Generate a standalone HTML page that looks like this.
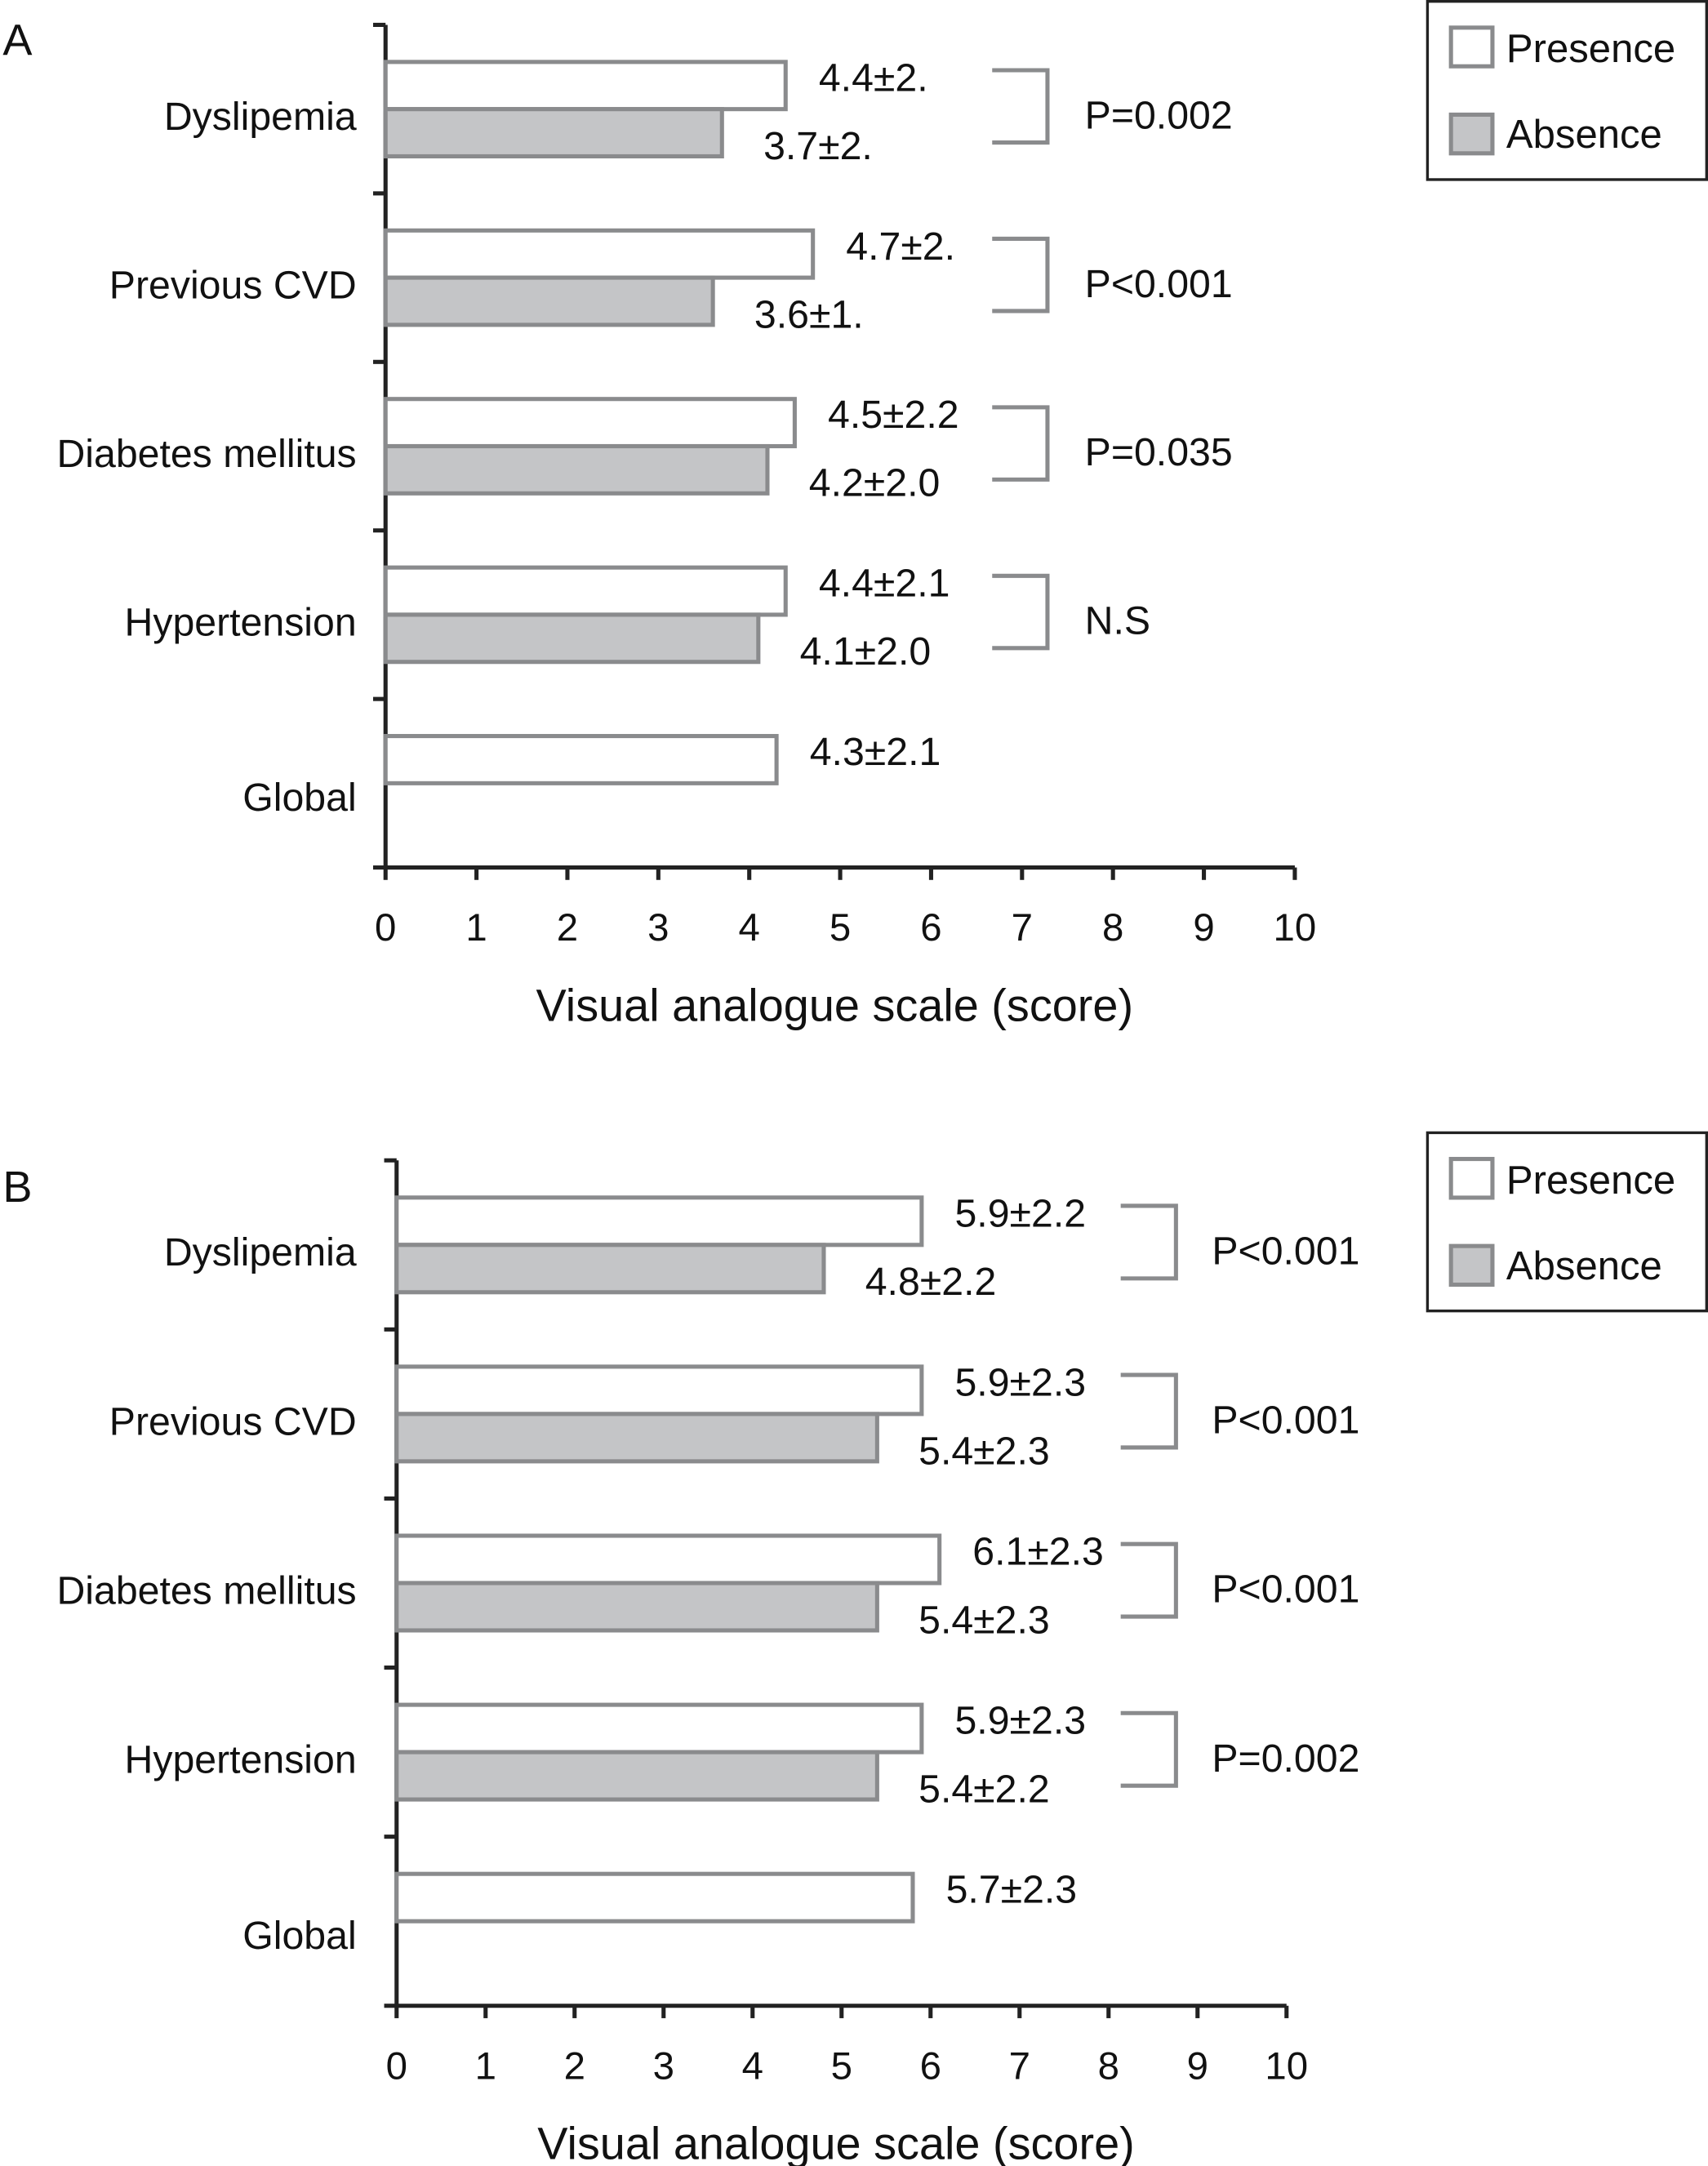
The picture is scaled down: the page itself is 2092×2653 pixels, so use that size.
<!DOCTYPE html>
<html><head><meta charset="utf-8"><style>
html,body{margin:0;padding:0;background:#fff}
svg{display:block}
text{font-family:"Liberation Sans",sans-serif;fill:#111}
</style></head><body>
<svg id="chart" width="2092" height="2653" viewBox="0 0 1236 1568" preserveAspectRatio="none" xmlns="http://www.w3.org/2000/svg"></svg>
<script>
const categories = ["Dyslipemia","Previous CVD","Diabetes mellitus","Hypertension","Global"];
const presenceA = [4.4,4.7,4.5,4.4,4.3];
const absenceA = [3.7,3.6,4.2,4.1,null];
const presenceLabelsA = ["4.4±2.","4.7±2.","4.5±2.2","4.4±2.1","4.3±2.1"];
const absenceLabelsA = ["3.7±2.","3.6±1.","4.2±2.0","4.1±2.0",null];
const pValuesA = ["P=0.002","P<0.001","P=0.035","N.S"];
const presenceB = [5.9,5.9,6.1,5.9,5.8];
const absenceB = [4.8,5.4,5.4,5.4,null];
const presenceLabelsB = ["5.9±2.2","5.9±2.3","6.1±2.3","5.9±2.3","5.7±2.3"];
const absenceLabelsB = ["4.8±2.2","5.4±2.3","5.4±2.3","5.4±2.2",null];
const pValuesB = ["P<0.001","P<0.001","P<0.001","P=0.002"];
const xTicks = [0,1,2,3,4,5,6,7,8,9,10];

const svg = document.getElementById('chart');
const NS = "http://www.w3.org/2000/svg";
function mk(tag, attrs, txt){
  const e = document.createElementNS(NS, tag);
  for (const k in attrs) e.setAttribute(k, attrs[k]);
  if (txt != null) e.textContent = txt;
  svg.appendChild(e);
  return e;
}
const GRAY = "#8a8b8d";

function panel(cfg){
  const {x0, x1, yTop, yBot, pres, abs, presL, absL, pv, letter, letterY, bx, px, legendY, prefix} = cfg;
  const xs = v => x0 + v * (x1 - x0) / 10;
  const band = (yBot - yTop) / categories.length;
  let e;
  e = mk('text', {x: 2, y: letterY, 'font-size': 32}, letter);
  
  
  e = mk('line', {x1: x0, y1: yTop, x2: x0, y2: yBot, stroke: '#222', 'stroke-width': 3});
  
  
  e = mk('line', {x1: x0, y1: yBot, x2: x1, y2: yBot, stroke: '#222', 'stroke-width': 3});
  
  
  for (let i = 0; i <= categories.length; i++) {
    const y = yTop + i * band;
    e = mk('line', {x1: x0 - 9, y1: y, x2: x0, y2: y, stroke: '#222', 'stroke-width': 3});
    
    
  }
  xTicks.forEach(t => {
    const x = xs(t);
    e = mk('line', {x1: x, y1: yBot, x2: x, y2: yBot + 9, stroke: '#222', 'stroke-width': 3});
    
    
    e = mk('text', {x: x, y: yBot + 53, 'font-size': 28, 'text-anchor': 'middle'}, String(t));
    
    
  });
  e = mk('text', {x: (x0 + x1) / 2 - 4, y: yBot + 111, 'font-size': 33, 'text-anchor': 'middle'}, 'Visual analogue scale (score)');
  
  
  const bh = band * 0.28;
  categories.forEach((c, i) => {
    const top = yTop + i * band + band * 0.22;
    const hasAbs = abs[i] != null;
    const labY = hasAbs ? top + bh + 15 : top + bh + 20;
    e = mk('text', {x: 258, y: labY, 'font-size': 28.5, 'text-anchor': 'end'}, c);
    
    
    e = mk('rect', {x: x0, y: top, width: xs(pres[i]) - x0, height: bh, fill: '#fff', stroke: GRAY, 'stroke-width': 3});
    
    
    e = mk('text', {x: xs(pres[i]) + 24, y: top + 21, 'font-size': 28.5}, presL[i]);
    
    
    if (hasAbs) {
      e = mk('rect', {x: x0, y: top + bh, width: xs(abs[i]) - x0, height: bh, fill: '#c4c5c7', stroke: GRAY, 'stroke-width': 3});
      
      
      e = mk('text', {x: xs(abs[i]) + 30, y: top + 2 * bh + 2, 'font-size': 28.5}, absL[i]);
      
      
      const b1 = top + 6, b2 = top + 2 * bh - 10;
      e = mk('path', {d: `M${bx} ${b1} H${bx + 40} V${b2} H${bx}`, fill: 'none', stroke: GRAY, 'stroke-width': 3});
      
      
      e = mk('text', {x: px, y: (b1 + b2) / 2 + 16, 'font-size': 28.5}, pv[i]);
      
      
    }
  });
  e = mk('rect', {x: 1033, y: legendY, width: 202, height: 129, fill: '#fff', stroke: '#222', 'stroke-width': 2});
  
  
  e = mk('rect', {x: 1050, y: legendY + 19, width: 30, height: 28, fill: '#fff', stroke: GRAY, 'stroke-width': 3});
  
  
  e = mk('text', {x: 1090, y: legendY + 44, 'font-size': 29}, 'Presence');
  
  
  e = mk('rect', {x: 1050, y: legendY + 82, width: 30, height: 28, fill: '#c4c5c7', stroke: GRAY, 'stroke-width': 3});
  
  
  e = mk('text', {x: 1090, y: legendY + 106, 'font-size': 29}, 'Absence');
  
  
}

panel({x0: 279, x1: 937, yTop: 18, yBot: 628, pres: presenceA, abs: absenceA, presL: presenceLabelsA, absL: absenceLabelsA, pv: pValuesA, letter: 'A', letterY: 40, bx: 718, px: 785, legendY: 1, prefix: 'panel-a'});
panel({x0: 287, x1: 931, yTop: 840, yBot: 1452, pres: presenceB, abs: absenceB, presL: presenceLabelsB, absL: absenceLabelsB, pv: pValuesB, letter: 'B', letterY: 870, bx: 811, px: 877, legendY: 820, prefix: 'panel-b'});
</script>
</body></html>
